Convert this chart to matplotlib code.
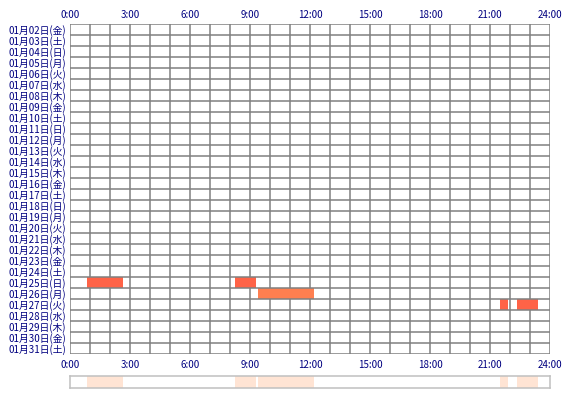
import matplotlib
matplotlib.use("Agg")
import matplotlib.pyplot as plt

plt.rcParams['font.family'] = ['Noto Sans CJK JP', 'DejaVu Sans']

# Data
days = list(range(2, 32))
weekdays = ['金', '土', '日', '月', '火', '水', '木'] * 5
weekdays = weekdays[:30]
row_labels = [f"01月{d:02d}日({w})" for d, w in zip(days, weekdays)]
hour_ticks = [0, 3, 6, 9, 12, 15, 18, 21, 24]
hour_labels = [f"{h}:00" for h in hour_ticks]

seg_day = [25, 25, 26, 27, 27]
seg_start = [0.85, 8.25, 9.4, 21.5, 22.35]
seg_end = [2.65, 9.3, 12.2, 21.9, 23.4]
seg_color = ['#FF6347', '#FF6347', '#FF7F50', '#FF6347', '#FF6347']

W, H = 570, 400
fig = plt.figure(figsize=(W / 100, H / 100), dpi=100)
ax = fig.add_axes([70 / W, (H - 354) / H, 480 / W, 330 / H])

n = len(row_labels)
ax.set_xlim(0, 24)
ax.set_ylim(n - 0.5, -0.5)

grid_c = '#808080'
lw = 1.1
for h in range(0, 25):
    ax.axvline(h, color=grid_c, lw=lw, zorder=1)
for k in range(n + 1):
    ax.axhline(k - 0.5, color=grid_c, lw=lw, zorder=3)

for d, s, e, c in zip(seg_day, seg_start, seg_end, seg_color):
    ax.barh(days.index(d), e - s, left=s, height=1.0, color=c, zorder=2, linewidth=0)

for sp in ax.spines.values():
    sp.set_visible(False)

ax.set_yticks(range(n))
ax.set_yticklabels(row_labels, fontsize=7, color='#000080')
ax.set_xticks(hour_ticks)
ax.set_xticklabels(hour_labels, fontsize=7, color='#000080')
ax.tick_params(axis='y', length=0, pad=3)
ax.tick_params(axis='x', which='major', length=0, pad=4, top=True, labeltop=True,
               bottom=True, labelbottom=True)
for lbl in ax.get_xticklabels(which='major'):
    pass
ax.xaxis.set_tick_params(which='major', labeltop=True)
for t in ax.xaxis.get_major_ticks():
    t.set_pad(4)
    t.label2.set_y(1.0)
ax.tick_params(axis='x', pad=4)
for t in ax.xaxis.get_major_ticks():
    t.label2.set_color('#000080')

# shift top labels slightly closer to the grid
import matplotlib.transforms as mtransforms
offset = mtransforms.ScaledTranslation(0, -2 / 100, fig.dpi_scale_trans)
for t in ax.xaxis.get_major_ticks():
    t.label2.set_transform(t.label2.get_transform() + offset)

# Summary strip
ax2 = fig.add_axes([70 / W, (H - 388) / H, 480 / W, 12 / H])
ax2.set_xlim(0, 24)
ax2.set_ylim(0, 1)
for s, e in zip(seg_start, seg_end):
    ax2.axvspan(s, e, color='#FFE4D4', lw=0)
for sp in ax2.spines.values():
    sp.set_color('#C0C0C0')
    sp.set_linewidth(1.1)
ax2.set_xticks([])
ax2.set_yticks([])

fig.savefig('out.png', dpi=100)
